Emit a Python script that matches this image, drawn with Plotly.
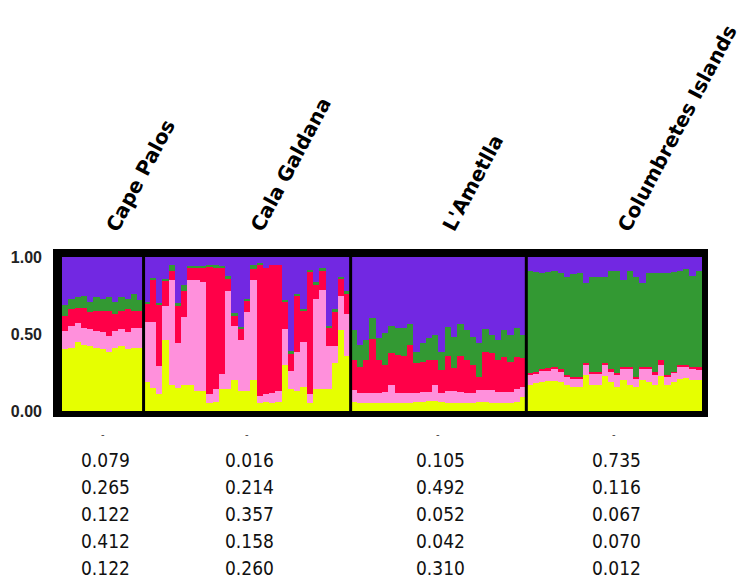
import numpy as np
import plotly.graph_objects as go

# ---------------- data ----------------
populations = ["Cape Palos", "Cala Galdana", "L'Ametlla", "Columbretes Islands"]

# cumulative membership boundaries per individual (bottom -> top):
# top of yellow, top of pink, top of red, top of green (purple fills to 1)
cape_palos_yellow = [0.40, 0.41, 0.45, 0.43, 0.42, 0.41, 0.40, 0.38, 0.41, 0.42, 0.40, 0.41, 0.41]
cape_palos_pink = [0.52, 0.55, 0.57, 0.54, 0.53, 0.52, 0.51, 0.49, 0.52, 0.53, 0.51, 0.54, 0.54]
cape_palos_red = [0.62, 0.66, 0.67, 0.67, 0.64, 0.65, 0.65, 0.65, 0.63, 0.65, 0.66, 0.65, 0.65]
cape_palos_green = [0.69, 0.73, 0.74, 0.75, 0.71, 0.74, 0.73, 0.74, 0.71, 0.74, 0.73, 0.76, 0.72]

cala_galdana_yellow = [0.19, 0.15, 0.11, 0.46, 0.17, 0.15, 0.17, 0.17, 0.13, 0.13, 0.05,
                       0.06, 0.145, 0.145, 0.20, 0.13, 0.13, 0.20, 0.05, 0.06, 0.05, 0.06,
                       0.30, 0.145, 0.13, 0.155, 0.05, 0.14, 0.145, 0.145, 0.31, 0.525, 0.36]
cala_galdana_pink = [0.58, 0.58, 0.29, 0.68, 0.85, 0.44, 0.61, 0.85, 0.85, 0.84, 0.11,
                     0.14, 0.24, 0.78, 0.555, 0.46, 0.64, 0.85, 0.10, 0.11, 0.12, 0.13,
                     0.535, 0.26, 0.38, 0.45, 0.11, 0.73, 0.785, 0.425, 0.425, 0.745, 0.63]
cala_galdana_red = [0.70, 0.855, 0.69, 0.845, 0.91, 0.68, 0.78, 0.93, 0.93, 0.93, 0.94,
                    0.935, 0.93, 0.86, 0.62, 0.53, 0.715, 0.92, 0.95, 0.93, 0.95, 0.95,
                    0.71, 0.37, 0.75, 0.655, 0.90, 0.82, 0.91, 0.545, 0.645, 0.855, 0.76]
cala_galdana_green = [0.71, 0.865, 0.70, 0.86, 0.95, 0.70, 0.82, 0.94, 0.94, 0.94, 0.95,
                      0.945, 0.94, 0.875, 0.635, 0.545, 0.73, 0.95, 0.96, 0.93, 0.95, 0.95,
                      0.72, 0.39, 0.76, 0.665, 0.915, 0.84, 0.93, 0.555, 0.66, 0.87, 0.78]

lametlla_yellow = [0.06, 0.055, 0.055, 0.055, 0.055, 0.055, 0.055, 0.055, 0.055, 0.055,
                   0.06, 0.06, 0.065, 0.065, 0.06, 0.055, 0.055, 0.055, 0.055, 0.055,
                   0.06, 0.06, 0.055, 0.055, 0.055, 0.055, 0.06, 0.09]
lametlla_pink = [0.136, 0.119, 0.119, 0.119, 0.119, 0.126, 0.169, 0.119, 0.119, 0.119,
                 0.119, 0.126, 0.126, 0.169, 0.119, 0.132, 0.132, 0.126, 0.119, 0.119,
                 0.136, 0.136, 0.136, 0.126, 0.126, 0.126, 0.141, 0.158]
lametlla_red = [0.331, 0.288, 0.331, 0.465, 0.331, 0.299, 0.374, 0.364, 0.357, 0.429,
                0.310, 0.320, 0.331, 0.331, 0.266, 0.357, 0.277, 0.357, 0.331, 0.299,
                0.223, 0.385, 0.374, 0.331, 0.353, 0.320, 0.353, 0.342]
lametlla_green = [0.526, 0.429, 0.461, 0.602, 0.472, 0.509, 0.552, 0.537, 0.537, 0.565,
                  0.385, 0.444, 0.472, 0.494, 0.385, 0.543, 0.478, 0.565, 0.526, 0.478,
                  0.439, 0.530, 0.494, 0.461, 0.526, 0.494, 0.537, 0.494]

columbretes_yellow = [0.169, 0.180, 0.190, 0.197, 0.197, 0.190, 0.169, 0.158, 0.158, 0.234,
                      0.169, 0.169, 0.227, 0.190, 0.158, 0.201, 0.169, 0.158, 0.201, 0.190,
                      0.169, 0.227, 0.169, 0.190, 0.206, 0.212, 0.201, 0.201]
columbretes_pink = [0.238, 0.245, 0.260, 0.266, 0.271, 0.255, 0.223, 0.212, 0.212, 0.299,
                    0.245, 0.240, 0.299, 0.255, 0.234, 0.277, 0.277, 0.212, 0.271, 0.271,
                    0.234, 0.299, 0.223, 0.249, 0.288, 0.288, 0.277, 0.266]
columbretes_red = [0.249, 0.255, 0.271, 0.277, 0.284, 0.271, 0.234, 0.223, 0.223, 0.314,
                   0.255, 0.255, 0.310, 0.271, 0.249, 0.288, 0.288, 0.223, 0.288, 0.288,
                   0.255, 0.331, 0.234, 0.255, 0.299, 0.299, 0.288, 0.284]
columbretes_green = [0.911, 0.905, 0.898, 0.905, 0.911, 0.894, 0.872, 0.890, 0.898, 0.829,
                     0.872, 0.872, 0.872, 0.911, 0.911, 0.851, 0.911, 0.872, 0.829, 0.894,
                     0.898, 0.898, 0.898, 0.905, 0.911, 0.920, 0.877, 0.911]

# table of mean membership values under each population
cape_palos_q = [0.079, 0.265, 0.122, 0.412, 0.122]
cala_galdana_q = [0.016, 0.214, 0.357, 0.158, 0.260]
lametlla_q = [0.105, 0.492, 0.052, 0.042, 0.310]
columbretes_q = [0.735, 0.116, 0.067, 0.070, 0.012]

# ---------------- assemble ----------------
yellow_top = np.array(cape_palos_yellow + cala_galdana_yellow + lametlla_yellow + columbretes_yellow)
pink_top = np.array(cape_palos_pink + cala_galdana_pink + lametlla_pink + columbretes_pink)
red_top = np.array(cape_palos_red + cala_galdana_red + lametlla_red + columbretes_red)
green_top = np.array(cape_palos_green + cala_galdana_green + lametlla_green + columbretes_green)
pop_sizes = [len(cape_palos_yellow), len(cala_galdana_yellow), len(lametlla_yellow), len(columbretes_yellow)]
tables = [cape_palos_q, cala_galdana_q, lametlla_q, columbretes_q]

N = len(yellow_top)
x = np.arange(N)

segments = [
    ("yellow", yellow_top, "#E6FF00"),
    ("pink", pink_top - yellow_top, "#FF90DC"),
    ("red", red_top - pink_top, "#FF0048"),
    ("green", green_top - red_top, "#339933"),
    ("purple", 1 - green_top, "#7228E2"),
]

fig = go.Figure()
for name, vals, col in segments:
    fig.add_trace(go.Bar(x=x, y=vals, name=name, marker=dict(color=col, line=dict(width=0)),
                         width=1.0, showlegend=False, hoverinfo="skip"))

# layout geometry (window pixels; the page body adds an 8px offset)
OFF = 8
W, H = 750 - OFF, 580 - OFF
frame_l, frame_r, frame_t, frame_b = 53 - OFF, 708 - OFF, 249 - OFF, 417 - OFF
inner_l, inner_r, inner_t, inner_b = 62 - OFF, 702 - OFF, 257 - OFF, 411 - OFF
ppu_x = (inner_r - inner_l) / N
ppu_y = (inner_b - inner_t)
x0 = -0.5 - (inner_l - frame_l) / ppu_x
x1 = N - 0.5 + (frame_r - inner_r) / ppu_x
y0 = -(frame_b - inner_b) / ppu_y
y1 = 1 + (inner_t - frame_t) / ppu_y

def py(pix):
    return (frame_b - (pix - OFF)) / (frame_b - frame_t)

bounds = np.cumsum(pop_sizes)
starts = np.concatenate([[0], bounds[:-1]])
centers = starts + np.array(pop_sizes) / 2 - 0.5

shapes = []
for b in bounds[:-1]:
    shapes.append(dict(type="line", xref="x", yref="paper", x0=b - 0.5, x1=b - 0.5, y0=0, y1=1,
                       line=dict(color="black", width=3)))

annotations = []
for name, c in zip(populations, centers):
    annotations.append(dict(text=name, x=c, xref="x", y=py(238), yref="paper",
                            xanchor="left", yanchor="bottom", textangle=-62, showarrow=False,
                            xshift=-4,
                            font=dict(family="DejaVu Sans", size=20, color="black", weight="bold")))
row_px = [460, 487, 514, 541, 568]
for tab, c in zip(tables, centers):
    annotations.append(dict(text="-", x=c, xref="x", y=py(434), yref="paper", showarrow=False,
                            xanchor="center", yanchor="middle",
                            font=dict(family="DejaVu Sans", size=10, color="#444")))
    for v, rp in zip(tab, row_px):
        annotations.append(dict(text=f"{v:.3f}", x=c + 0.4, xref="x", y=py(rp), yref="paper",
                                showarrow=False, xanchor="center", yanchor="middle",
                                font=dict(family="DejaVu Sans Condensed, DejaVu Sans", size=19,
                                          color="#111")))

fig.update_layout(
    width=W, height=H,
    margin=dict(l=frame_l, r=W - frame_r, t=frame_t, b=H - frame_b, pad=0, autoexpand=False),
    barmode="stack", bargap=0,
    plot_bgcolor="black", paper_bgcolor="white",
    xaxis=dict(range=[x0, x1], visible=False, fixedrange=True, automargin=False),
    yaxis=dict(range=[y0, y1], tickvals=[0, 0.5, 1], tickformat=".2f", showgrid=False,
               zeroline=False, showline=False, ticks="", ticklabelstandoff=10, automargin=False,
               tickfont=dict(family="Liberation Sans, Arial", size=16, color="#222", weight="bold")),
    shapes=shapes,
    annotations=annotations,
)

fig.write_html("out.html")
